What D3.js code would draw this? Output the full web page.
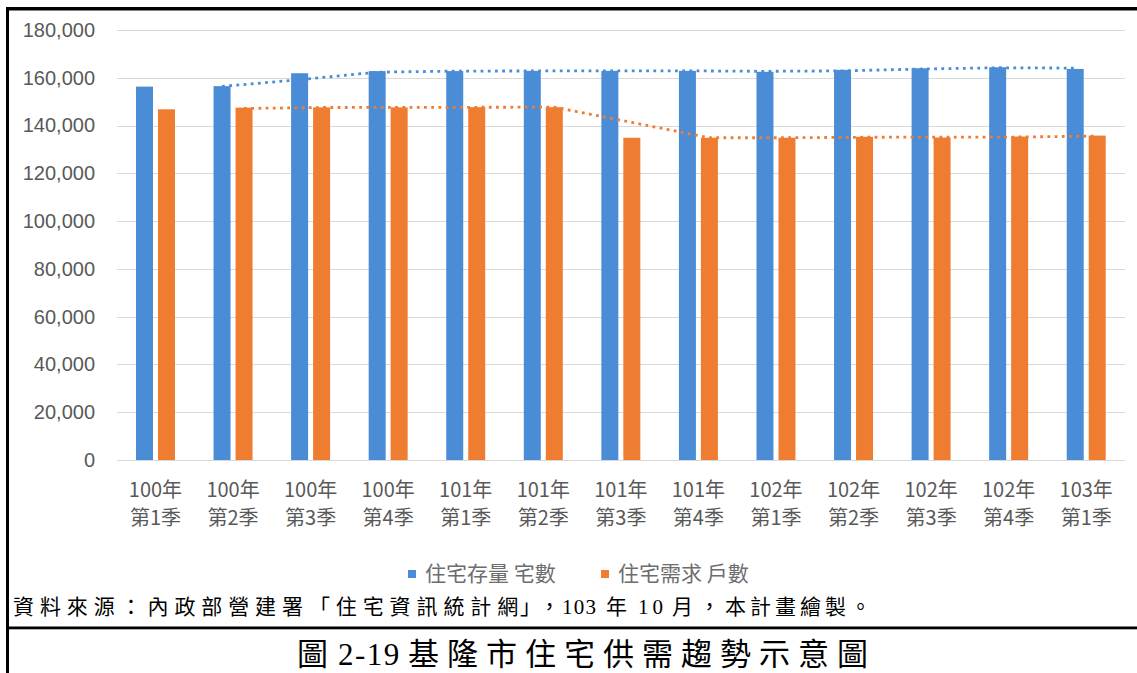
<!DOCTYPE html>
<html>
<head>
<meta charset="utf-8">
<script src="https://cdn.jsdelivr.net/npm/d3@7/dist/d3.min.js"></script>
<style>
  html, body { margin: 0; padding: 0; background: #fff; }
  svg { display: block; }
</style>
</head>
<body>
<svg id="chart" width="1137" height="673"></svg>
<script>
// Quarters shown along the x axis (two text lines each)
const yearLabels = ["100年","100年","100年","100年","101年","101年","101年","101年","102年","102年","102年","102年","103年"];
const quarterLabels = ["第1季","第2季","第3季","第4季","第1季","第2季","第3季","第4季","第1季","第2季","第3季","第4季","第1季"];

// Housing stock (dwellings) and housing demand (households)
const stockValues  = [156300, 156500, 161900, 162800, 162800, 162900, 162900, 162900, 162500, 163300, 164000, 164400, 163700];
const demandValues = [146800, 147500, 147600, 147600, 147700, 147700, 134900, 134900, 134900, 135300, 135000, 135400, 135800];

// Dotted trend lines (2-period moving average), first quarter has no value
const stockTrend  = [null, 156400, 159200, 162350, 162800, 162850, 162900, 162900, 162700, 162900, 163650, 164200, 164050];
const demandTrend = [null, 147150, 147550, 147600, 147650, 147700, 141300, 134900, 134900, 135100, 135150, 135200, 135600];

const seriesNames = ["住宅存量 宅數", "住宅需求 戶數"];
const seriesColors = ["#4a8dd6", "#ee7d31"];
const yTicks = [0, 20000, 40000, 60000, 80000, 100000, 120000, 140000, 160000, 180000];

const svg = d3.select("#chart");
const W = 1137, H = 673;

const plot = { left: 116.7, right: 1125, top: 30, bottom: 460 };

const categories = yearLabels.map((y, i) => i);
const x = d3.scaleBand().domain(categories).range([plot.left, plot.right]).padding(0);
const xSeries = d3.scaleBand().domain([0, 1]).range([0, x.bandwidth()])
  .paddingInner(5 / 22).paddingOuter(0.877);
const y = d3.scaleLinear().domain([0, 180000]).range([plot.bottom, plot.top]);

// gridlines
svg.append("g").selectAll("line").data(yTicks).join("line")
  .attr("x1", plot.left).attr("x2", plot.right)
  .attr("y1", d => Math.round(y(d)) + 0.5).attr("y2", d => Math.round(y(d)) + 0.5)
  .attr("stroke", "#d9d9d9").attr("stroke-width", 1);

// y axis labels
const yAxis = d3.axisLeft(y).tickValues(yTicks).tickFormat(d3.format(",")).tickSize(0).tickPadding(0);
const gy = svg.append("g").attr("transform", "translate(95,0)").call(yAxis);
gy.select(".domain").remove();
gy.selectAll("text")
  .attr("fill", "#595959")
  .style("font-family", "'Liberation Sans', Arial, sans-serif")
  .style("font-size", "20px");

// bars
const seriesData = [stockValues, demandValues];
seriesData.forEach((vals, s) => {
  svg.append("g").selectAll("rect").data(vals).join("rect")
    .attr("x", (d, i) => x(i) + xSeries(s))
    .attr("width", xSeries.bandwidth())
    .attr("y", d => y(d))
    .attr("height", d => y(0) - y(d))
    .attr("fill", seriesColors[s]);
});

// dotted trend lines
[stockTrend, demandTrend].forEach((vals, s) => {
  const line = d3.line()
    .defined(d => d != null)
    .x((d, i) => x(i) + xSeries(s) + xSeries.bandwidth() / 2)
    .y(d => y(d));
  svg.append("path").datum(vals)
    .attr("d", line)
    .attr("fill", "none")
    .attr("stroke", seriesColors[s])
    .attr("stroke-width", 2.8)
    .attr("stroke-dasharray", "2.8 4.4");
});

// x axis category labels
const xl = svg.append("g")
  .style("font-family", "'Noto Sans CJK TC', sans-serif")
  .style("font-size", "20px")
  .attr("fill", "#595959")
  .attr("text-anchor", "middle");
categories.forEach(i => {
  const cx = x(i) + x.bandwidth() / 2;
  const t = xl.append("text");
  t.append("tspan").attr("x", cx).attr("y", 497).text(yearLabels[i]);
  t.append("tspan").attr("x", cx).attr("y", 525).text(quarterLabels[i]);
});

// legend
const legendX = [408, 601];
const lg = svg.append("g")
  .style("font-family", "'Noto Sans CJK TC', sans-serif")
  .style("font-size", "21px")
  .attr("fill", "#6d6d6d");
seriesNames.forEach((name, s) => {
  lg.append("rect").attr("x", legendX[s]).attr("y", 570).attr("width", 8).attr("height", 8).attr("fill", seriesColors[s]);
  lg.append("text").attr("x", legendX[s] + 17).attr("y", 581).text(name);
});

// frame lines
svg.append("rect").attr("x", 6).attr("y", 7).attr("width", W - 6).attr("height", 3.5).attr("fill", "#000");
svg.append("rect").attr("x", 6).attr("y", 7).attr("width", 3).attr("height", H - 7).attr("fill", "#000");
svg.append("rect").attr("x", 6).attr("y", 626.5).attr("width", W - 6).attr("height", 2.8).attr("fill", "#000");

// fixed-pitch glyph placement for the CJK runs
const pitch = (start, step, n) => d3.range(n).map(k => (start + k * step).toFixed(1)).join(" ");

// source note
const serif = "'Liberation Serif', 'Noto Sans CJK TC', serif";
const src = svg.append("text")
  .attr("y", 614)
  .style("font-family", serif)
  .style("font-size", "21px")
  .attr("fill", "#000");
const srcHead = "資料來源：內政部營建署「住宅資訊統計網";
src.append("tspan").attr("x", pitch(13, 26.9, srcHead.length)).text(srcHead);
src.append("tspan").attr("x", "520 539").text("」，");
src.append("tspan").attr("x", 562).style("letter-spacing", "1.2px").text("103");
src.append("tspan").attr("x", 606).text("年");
src.append("tspan").attr("x", 638).style("letter-spacing", "4px").text("10");
src.append("tspan").attr("x", "672 699 725 750 775 800 825 850").text("月，本計畫繪製。");

// figure caption
const cap = svg.append("text")
  .attr("y", 665)
  .style("font-family", serif)
  .style("font-size", "31px")
  .attr("fill", "#000");
cap.append("tspan").attr("x", 297).text("圖");
cap.append("tspan").attr("x", 338).style("letter-spacing", "1.5px").text("2-19");
const capTail = "基隆市住宅供需趨勢示意圖";
cap.append("tspan").attr("x", pitch(408, 39, capTail.length)).text(capTail);
</script>
</body>
</html>
